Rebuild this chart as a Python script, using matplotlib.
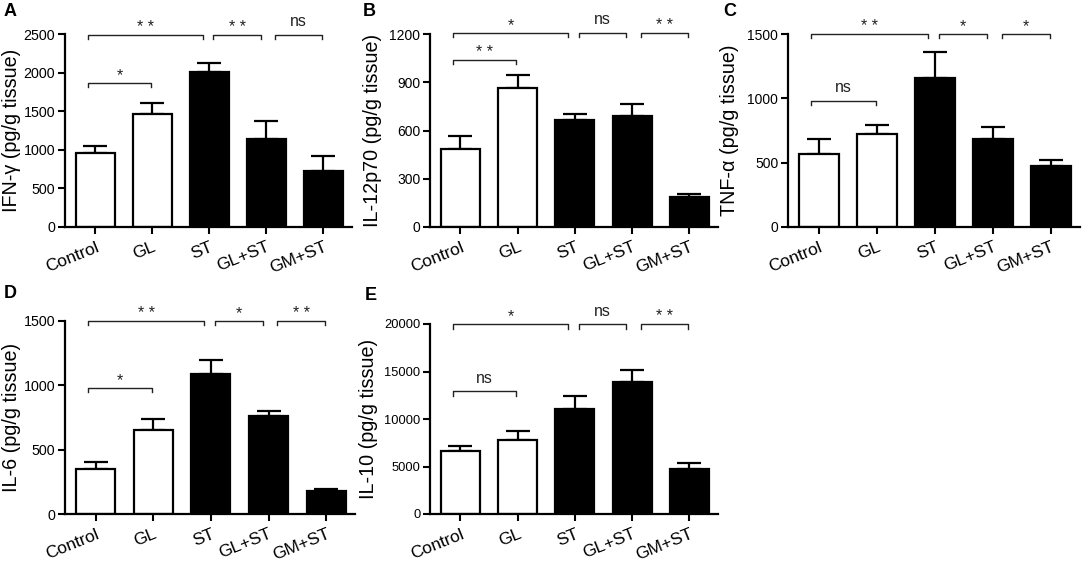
import matplotlib
matplotlib.use("Agg")
import matplotlib.pyplot as plt

plt.rcParams['font.family'] = ['Liberation Sans', 'DejaVu Sans']

groups = ['Control', 'GL', 'ST', 'GL+ST', 'GM+ST']
bar_colors = ['white', 'white', 'black', 'black', 'black']

ifn_mean = [960, 1470, 2010, 1140, 720]
ifn_err = [90, 130, 110, 230, 200]
il12_mean = [487, 865, 665, 690, 187]
il12_err = [78, 80, 35, 75, 20]
tnf_mean = [570, 720, 1160, 685, 472]
tnf_err = [112, 70, 198, 96, 50]
il6_mean = [350, 655, 1085, 765, 176]
il6_err = [58, 86, 110, 38, 20]
il10_mean = [6600, 7830, 11090, 13900, 4700]
il10_err = [560, 945, 1370, 1300, 630]

# significance: (top brackets Control-ST, ST-GL+ST, GL+ST-GM+ST), lower Control-GL
sig_top = [['* *', '* *', 'ns'], ['*', 'ns', '* *'], ['* *', '*', '*'],
           ['* *', '*', '* *'], ['*', 'ns', '* *']]
sig_low = ['*', '* *', 'ns', '*', 'ns']
top_y = [2490, 1205, 1500, 1500, 19950]
low_y = [1863, 1040, 983, 981, 12912]

ylabels = ['IFN-γ (pg/g tissue)', 'IL-12p70 (pg/g tissue)', 'TNF-α (pg/g tissue)',
           'IL-6 (pg/g tissue)', 'IL-10 (pg/g tissue)']
ymax = [2500, 1200, 1500, 1500, 20000]
ystep = [500, 300, 500, 500, 5000]
letters = ['A', 'B', 'C', 'D', 'E']
means = [ifn_mean, il12_mean, tnf_mean, il6_mean, il10_mean]
errs = [ifn_err, il12_err, tnf_err, il6_err, il10_err]

W, H = 1084, 561
fig = plt.figure(figsize=(W / 100, H / 100), dpi=100)

# axes boxes in pixels: left, top, right, bottom
boxes = [(65, 34, 352, 227), (430, 34, 718, 227), (788, 34, 1080, 227),
         (65, 321, 355, 514), (430, 324, 718, 514)]
letter_pos = [(4, 12), (363, 12), (723, 12), (4, 293), (365, 296)]
label_x = [-0.153, -0.167, -0.168, -0.152, -0.18]
tick_size = [10.3, 10, 10, 10.3, 9.3]

brk_x = [(-0.13, 1.88), (2.07, 2.9), (3.15, 3.98)]
low_x = (-0.13, 0.98)

for i in range(5):
    l, t, r, b = boxes[i]
    ax = fig.add_axes([l / W, 1 - b / H, (r - l) / W, (b - t) / H])
    x = range(len(groups))
    ax.bar(x, means[i], width=0.68, color=bar_colors, edgecolor='black',
           linewidth=1.6, zorder=2)
    ax.errorbar(x, means[i], yerr=[[0] * 5, errs[i]], fmt='none', ecolor='black',
                elinewidth=1.6, capsize=8.5, capthick=1.6, zorder=1)
    ax.set_xlim(-0.53, 4.5)
    ax.set_ylim(0, ymax[i])
    ax.set_yticks(range(0, ymax[i] + 1, ystep[i]))
    ax.set_xticks(list(x))
    ax.set_xticklabels(groups, rotation=22, ha='right', va='top',
                       rotation_mode='anchor', fontsize=12.5)
    ax.tick_params(axis='y', labelsize=tick_size[i], width=1.5, length=5, pad=2)
    ax.tick_params(axis='x', width=1.5, length=5, pad=4)
    for s in ['top', 'right']:
        ax.spines[s].set_visible(False)
    for s in ['left', 'bottom']:
        ax.spines[s].set_linewidth(1.6)
    ax.set_ylabel(ylabels[i], fontsize=14.2)
    ax.yaxis.set_label_coords(label_x[i], 0.5)

    d = ymax[i] * 0.022
    pairs = list(zip(brk_x, sig_top[i], [top_y[i]] * 3)) + [(low_x, sig_low[i], low_y[i])]
    for (x1, x2), lab, y in pairs:
        ax.plot([x1, x1, x2, x2], [y - d, y, y, y - d], color='#222222', lw=1.0,
                clip_on=False)
        off = 0.03 if lab == 'ns' else 0.0
        ax.text((x1 + x2) / 2, y + ymax[i] * off, lab, ha='center', va='bottom',
                fontsize=11.5, color='#222222', clip_on=False)

    fig.text(letter_pos[i][0] / W, 1 - letter_pos[i][1] / H, letters[i],
             fontsize=13, fontweight='bold', va='center', ha='left')

fig.savefig('out.png', dpi=100)
